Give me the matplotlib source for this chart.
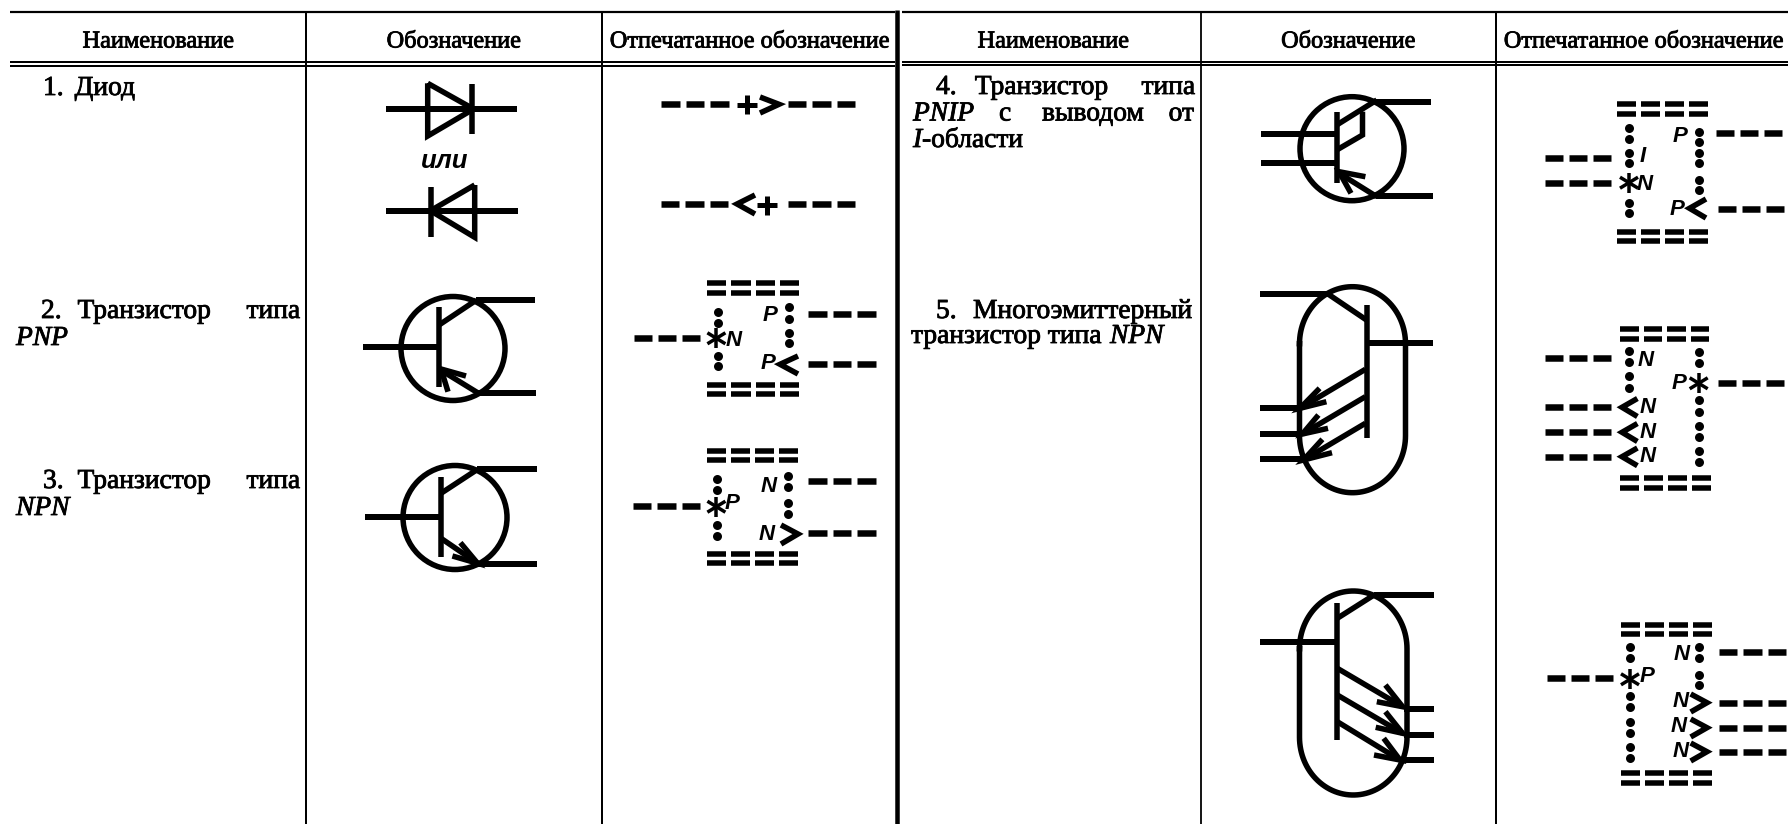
import numpy as np
import matplotlib
matplotlib.use('Agg')
import matplotlib.pyplot as plt
import matplotlib.patheffects as pe
from matplotlib.patches import Circle

PX = 0.72  # pixels to points at dpi 100
SERIF = 'Liberation Serif'
GOST = ['Liberation Sans Narrow', 'Liberation Sans']

# Table rules: x0, x1, y, width
h_rules = [(10, 895, 12, 2.2), (10, 895, 62, 2), (10, 895, 65.5, 2),
           (902, 1788, 11.5, 2.2), (902, 1788, 62, 2), (902, 1788, 65, 2)]
# x, y0, y1, width
v_rules = [(305.5, 12, 824, 2), (601.5, 12, 824, 2), (896.5, 10, 824, 4.5),
           (1200.5, 11, 824, 1.8), (1496, 11, 824, 2)]

headers = ['Наименование', 'Обозначение', 'Отпечатанное обозначение']
header_x = [158, 453.5, 749, 1053, 1348, 1643]
header_y = 42

# x, baseline y, text, align, italic
name_labels = [
    (43, 95, '1.', 'left', False),
    (74.6, 95, 'Диод', 'left', False),
    (41, 318, '2.', 'left', False),
    (77.5, 318, 'Транзистор', 'left', False),
    (300, 318, 'типа', 'right', False),
    (16, 345, 'PNP', 'left', True),
    (43, 488, '3.', 'left', False),
    (77.5, 488, 'Транзистор', 'left', False),
    (300, 488, 'типа', 'right', False),
    (16, 515, 'NPN', 'left', True),
    (936, 94, '4.', 'left', False),
    (974.8, 94, 'Транзистор', 'left', False),
    (1195, 94, 'типа', 'right', False),
    (913, 120.5, 'PNIP', 'left', True),
    (999, 120.5, 'с', 'left', False),
    (1042, 120.5, 'выводом', 'left', False),
    (1194, 120.5, 'от', 'right', False),
    (913, 147, 'I', 'left', True),
    (922, 147, '-области', 'left', False),
    (936, 318, '5.', 'left', False),
    (973, 318, 'Многоэмиттерный', 'left', False),
    (911, 343, 'транзистор типа', 'left', False),
    (1110, 343, 'NPN', 'left', True),
]

# Lead wires, thick: x0, x1, y
wires = [
    (386, 517, 109), (386, 518, 210.7),
    (363, 439, 347.3), (476, 535, 300), (477, 535.5, 392.7),
    (364.5, 441, 516.7), (477, 536.5, 469.3), (477, 537, 563.5),
    (1260.5, 1336.7, 134), (1260.5, 1336.7, 162.7), (1376, 1431, 101.7), (1376, 1433, 196),
    (1259.5, 1328, 294), (1368, 1433, 342.7), (1259.5, 1300, 408.3), (1259.5, 1302, 433.5), (1259.5, 1303, 459),
    (1374, 1434, 595), (1259.5, 1337, 642.3), (1404, 1434, 709), (1404, 1434, 735), (1403, 1434, 760),
]

# Symbol strokes as polylines of (x, y)
strokes = [
    # diodes
    [(427.7, 83.3), (427.7, 136), (473.6, 109), (427.7, 83.3)],
    [(472.4, 84), (472.4, 134.3)],
    [(474.7, 185), (474.7, 237.3), (430.5, 210.7), (474.7, 185)],
    [(430.5, 186.7), (430.5, 236.7)],
    # transistor 2
    [(439, 307), (439, 386.7)],
    [(439, 325), (476.5, 300)],
    [(439, 369), (477.6, 392.7)],
    [(466, 376), (441, 369), (448, 391.7)],
    # transistor 3
    [(441, 476.7), (441, 556.7)],
    [(441, 493.3), (477.6, 469.3)],
    [(441, 538.3), (477.6, 563.3)],
    [(460.4, 542.7), (477.6, 563.3), (452.4, 556)],
    # transistor 4
    [(1336.7, 111.7), (1336.7, 183.3)],
    [(1336.7, 125), (1376.8, 100)],
    [(1362.5, 111.7), (1362.5, 135), (1336.7, 150)],
    [(1336.7, 171.7), (1376.8, 196.7)],
    [(1365.4, 176.7), (1339, 171.7), (1351, 193.3)],
    # transistor 5
    [(1328, 294), (1366.5, 320)],
    [(1367, 305), (1367, 438.3)],
    [(1365.4, 369.3), (1300, 408.3)],
    [(1319.6, 388.3), (1300, 408.3), (1326.4, 401.7)],
    [(1365.4, 396.7), (1302.4, 434)],
    [(1318.4, 415), (1302.4, 434), (1328, 428.3)],
    [(1365.4, 423.3), (1303.5, 460)],
    [(1322.4, 439.3), (1303.5, 460), (1332, 452.7)],
    # transistor 6
    [(1337.3, 603.3), (1337.3, 740)],
    [(1337.3, 618.3), (1374, 595)],
    [(1337.3, 668.3), (1402.6, 706.7)],
    [(1385.4, 685), (1402.6, 706.7), (1376.8, 701.7)],
    [(1337.3, 695), (1402.6, 733.3)],
    [(1385.4, 711.7), (1402.6, 733.3), (1375.7, 727.3)],
    [(1337.3, 721.7), (1400, 760)],
    [(1383.7, 738.3), (1400, 760), (1374, 755)],
]

# cx, cy, r
circles = [(453, 348.5, 52), (455, 517.5, 52), (1352, 148.7, 52)]
# x0, x1, y0, y1 of rounded outlines
stadiums = [(1299.5, 1405.5, 286.7, 492.7), (1299.5, 1407, 591, 795)]

# Printed symbols: three-dash leads x0, x1, y
leads = [
    (661, 729, 104.3), (787.6, 855, 104.3), (661, 728, 204), (787.6, 855, 204),
    (634, 700, 338.3), (808, 875.5, 314), (808, 875.5, 364),
    (633, 700, 505.7), (808, 875.5, 480.7), (808, 875.5, 533.3),
    (1716, 1782, 133.3), (1544.6, 1610.5, 158.3), (1544.6, 1610.5, 183.3), (1717.6, 1783.5, 209.3),
    (1544.6, 1610.5, 358.3), (1717.6, 1783.5, 383.3), (1544.6, 1610.5, 407.3),
    (1544.6, 1610.5, 432.3), (1544.6, 1610.5, 456.7),
    (1547, 1613, 678.3), (1718.7, 1786, 652.3), (1718.7, 1786, 702.7), (1718.7, 1786, 727.7), (1718.7, 1786, 751.7),
]
# four-dash double bars x0, x1, y
bars = [
    (707, 799, 283.3), (707, 799, 293.3), (707, 799, 385), (707, 799, 394.3),
    (707, 798, 450.7), (707, 798, 460), (707, 798, 554), (707, 798, 562.7),
    (1617.4, 1708, 104.3), (1617.4, 1708, 114), (1617.4, 1708, 231.7), (1617.4, 1708, 240.7),
    (1620, 1709, 329.3), (1620, 1709, 339.3), (1620, 1711, 478.3), (1620, 1711, 487.7),
    (1621.4, 1712, 625), (1621.4, 1712, 634), (1621.4, 1712, 773.3), (1621.4, 1712, 782.7),
]
# dot columns: x, list of y
dots = [
    (717.6, [311.7, 322.7, 356, 366]),
    (789.3, [307.3, 319, 332.7, 343.3]),
    (717, [479.3, 490, 525, 535.7]),
    (788, [476, 487.3, 502.7, 514]),
    (1628.8, [128.3, 139.3, 152.7, 163.3, 202.7, 213.3]),
    (1698.7, [131.7, 141.7, 152.7, 163.3, 180, 190]),
    (1628.8, [350.7, 361.7, 376, 388.3]),
    (1699.3, [351.7, 362.7, 400, 411.7, 426, 436.7, 450.7, 461.7]),
    (1630, [647.3, 658.3, 696, 706.7, 721.7, 732.7, 747.3, 758.3]),
    (1699.3, [647.3, 658.3, 675, 685]),
]
# chevrons
chevrons = [
    [(760, 97), (779, 104.3), (760, 113)],
    [(755, 195), (737, 204), (755, 214)],
    [(798, 356), (780, 364.3), (798, 374)],
    [(781, 525), (798, 534), (781, 544)],
    [(1706, 199), (1689.5, 208.3), (1706, 218)],
    [(1637.4, 398.5), (1622, 407.3), (1637.4, 416.5)],
    [(1637.4, 423.5), (1622, 432.3), (1637.4, 441.5)],
    [(1637.4, 448), (1622, 456.7), (1637.4, 465.7)],
    [(1690.7, 694), (1707, 702.7), (1690.7, 712)],
    [(1690.7, 719), (1707, 727.7), (1690.7, 737)],
    [(1690.7, 743), (1707, 751.7), (1690.7, 761)],
]
plus_signs = [(746.5, 104.5), (767, 205)]
stars = [(716.4, 338.3), (716.4, 506.7), (1629, 182.7), (1698.7, 383.3), (1630, 679.3)]
# printed letters: x, y, letter
letters = [
    (770, 315, 'P'), (733.6, 340.7, 'N'), (768, 363, 'P'),
    (769, 486, 'N'), (732.5, 503, 'P'), (766.4, 534, 'N'),
    (1643, 156.7, 'I'), (1645, 184, 'N'), (1680, 136.7, 'P'), (1677.5, 209, 'P'),
    (1646, 360, 'N'), (1679, 383, 'P'), (1647.7, 407, 'N'), (1647.7, 432, 'N'), (1647.7, 456.5, 'N'),
    (1682, 655, 'N'), (1647, 676.7, 'P'), (1680.4, 701.7, 'N'), (1679, 726.7, 'N'), (1680.4, 751.7, 'N'),
]

fig = plt.figure(figsize=(17.88, 8.24), dpi=100, facecolor='white')
ax = fig.add_axes([0, 0, 1, 1])
ax.set_xlim(0, 1788)
ax.set_ylim(824, 0)
ax.axis('off')


def seg(xs, ys, w, cap='butt'):
    ax.plot(xs, ys, color='black', lw=w * PX, solid_capstyle=cap, solid_joinstyle='miter')


def dashed(x0, x1, y, n, w, gap=6):
    # row of n equal thick dashes
    d = (x1 - x0 - gap * (n - 1)) / n
    for i in range(n):
        a = x0 + i * (d + gap)
        seg([a, a + d], [y, y], w)


def stadium(x0, x1, y0, y1):
    # one closed outline so the round ends join the straight sides
    rx = (x1 - x0) / 2
    ry = rx + 4
    cx = (x0 + x1) / 2
    t = np.linspace(0, np.pi, 60)
    xs = np.concatenate([cx - rx * np.cos(t), cx + rx * np.cos(t), [x0]])
    ys = np.concatenate([y0 + ry - ry * np.sin(t), y1 - ry + ry * np.sin(t), [y0 + ry]])
    ax.plot(xs, ys, color='black', lw=5.5 * PX, solid_joinstyle='round')


# rules
for x0, x1, y, w in h_rules:
    seg([x0, x1], [y, y], w)
for x, y0, y1, w in v_rules:
    seg([x, x], [y0, y1], w)

# text
bold_edge = [pe.withStroke(linewidth=0.6, foreground='black')]
for i, x in enumerate(header_x):
    ax.text(x, header_y, headers[i % 3], family=SERIF, fontsize=17.5, ha='center', va='center',
            path_effects=bold_edge)
for x, y, s, al, it in name_labels:
    ax.text(x, y, s, family=SERIF, fontsize=19.8, ha=al, va='baseline',
            style='italic' if it else 'normal', path_effects=bold_edge)
ax.text(445, 161, 'или', family=GOST, fontsize=18.5, style='italic', weight='bold', ha='center', va='center')

# schematic symbols
for x0, x1, y in wires:
    seg([x0, x1], [y, y], 6)
for line in strokes:
    seg([p[0] for p in line], [p[1] for p in line], 5.5)
for cx, cy, r in circles:
    ax.add_patch(Circle((cx, cy), r, fill=False, ec='black', lw=5.5 * PX))
for x0, x1, y0, y1 in stadiums:
    stadium(x0, x1, y0, y1)

# printed symbols
for x0, x1, y in leads:
    dashed(x0, x1, y, 3, 6.5)
for x0, x1, y in bars:
    dashed(x0, x1, y, 4, 5.5, gap=5)
for x, ys in dots:
    ax.scatter([x] * len(ys), ys, s=(9 * PX) ** 2, color='black', linewidths=0)
for line in chevrons:
    seg([p[0] for p in line], [p[1] for p in line], 5.5)
for x, y in plus_signs:
    seg([x - 10, x + 10], [y, y], 5)
    seg([x, x], [y - 9.5, y + 9.5], 5)
for x, y in stars:
    seg([x, x], [y - 10, y + 10], 3.5)
    seg([x - 9, x + 9], [y - 5.5, y + 5.5], 3.5)
    seg([x - 9, x + 9], [y + 5.5, y - 5.5], 3.5)
for x, y, s in letters:
    ax.text(x, y, s, family=GOST, fontsize=16, style='italic', weight='bold', ha='center', va='center')

fig.savefig('out.png', dpi=100, facecolor='white')
